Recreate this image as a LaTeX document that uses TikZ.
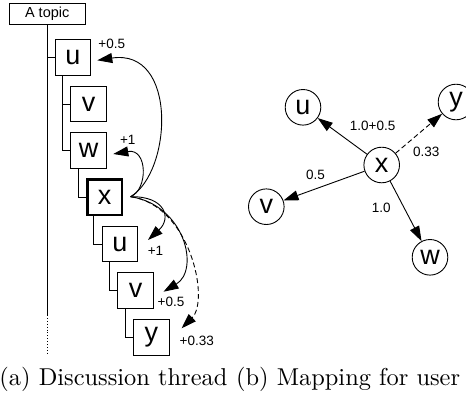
\documentclass[tikz,border=0pt]{standalone}
\usepackage{fontspec}
\setsansfont{Liberation Sans}
\usetikzlibrary{arrows.meta}
\begin{document}
\begin{tikzpicture}[x=1pt,y=1pt,
  ln/.style={line width=0.9pt},
  tbox/.style={draw, line width=0.9pt, minimum width=35.7pt, minimum height=35.7pt, inner sep=0pt, font=\fontsize{27}{27}\sffamily},
  cnode/.style={draw, circle, line width=0.9pt, minimum size=35.6pt, inner sep=0pt, font=\fontsize{27}{27}\sffamily},
  lab/.style={font=\fontsize{13.5}{14}\sffamily, inner sep=0pt},
  arr/.style={-{Triangle[length=15pt,width=10pt]}, line width=0.9pt},
  dsh/.style={dash pattern=on 5pt off 3pt},
  captext/.style={anchor=base west, inner sep=0pt, scale=2.44, font=\fontsize{10}{12}\selectfont}]
\useasboundingbox (0,0) rectangle (466,-397);

% ---- (a) discussion thread ----
\node[tbox, minimum width=75.5pt, minimum height=20.5pt, font=\fontsize{14.5}{15}\sffamily] (topic) at (47.2,-13.7) {A topic};
\node[tbox] (u1) at (73,-57.3) {u};
\node[tbox] (v1) at (88.7,-104) {v};
\node[tbox] (w1) at (88.7,-150.7) {w};
\node[tbox, line width=2.6pt, minimum width=34.7pt, minimum height=35.2pt] (x1) at (104.6,-197.2) {x};
\node[tbox] (u2) at (120,-244) {u};
\node[tbox] (v2) at (135.7,-290.7) {v};
\node[tbox] (y2) at (151.3,-337.3) {y};

\coordinate (mainend) at (topic.south |- 0,-315);
\coordinate (dotend) at (topic.south |- 0,-355);
\draw[ln] (topic.south) -- (mainend);
\draw[ln, dotted] (mainend) -- (dotend);
\draw[ln] (topic.south |- u1.west) -- (u1.west);
\draw[ln] ([xshift=8pt]u1.south west) |- (v1.west);
\draw[ln] ([xshift=8pt]u1.south west) |- (w1.west);
\draw[ln] ([xshift=8pt]w1.south west) |- (x1.west);
\draw[ln] ([xshift=7pt]x1.south west) |- (u2.west);
\draw[ln] ([xshift=8pt]u2.south west) |- (v2.west);
\draw[ln] ([xshift=8pt]v2.south west) |- (y2.west);

\node[lab] (l1) at (111.7,-44) {+0.5};
\node[lab] (l2) at (127.7,-140) {+1};
\node[lab] (l3) at (155.5,-250.5) {+1};
\node[lab] (l4) at (171,-302.3) {+0.5};
\node[lab] (l5) at (196.7,-341) {+0.33};

\coordinate (s) at ([shift={(7.3,0.5)}]x1.east);
\coordinate (tu1) at ([shift={(6,-3)}]u1.east);
\coordinate (tw1) at ([shift={(6.3,-3.3)}]w1.east);
\coordinate (tu2) at ([shift={(9.7,-14.3)}]u2.north east);
\coordinate (tv2) at ([shift={(9.5,-1)}]v2.east);
\coordinate (ty2) at ([shift={(12,-9.3)}]y2.north east);

\draw[arr] (s) .. controls (172,-172) and (178,-48) .. (tu1);
\draw[arr] (s) .. controls (148,-190) and (148,-148) .. (tw1);
\draw[arr] (s) .. controls (165,-196) and (172,-218) .. (tu2);
\draw[arr] (s) .. controls (185,-205) and (200,-270) .. (tv2);
\draw[arr, dsh] (s) .. controls (190,-205) and (210,-300) .. (ty2);

% ---- (b) mapping for user ----
\node[cnode] (U) at (303,-107.3) {u};
\node[cnode] (Y) at (456,-102) {y};
\node[cnode] (X) at (381.7,-165) {x};
\node[cnode] (V) at (266.3,-206.7) {v};
\node[cnode] (W) at (430,-257.3) {w};

\draw[arr] (X) -- (U);
\draw[arr, dsh] (X) -- (Y);
\draw[arr] (X) -- (V);
\draw[arr] (X) -- (W);

\node[lab] (lu) at (372.6,-126) {1.0+0.5};
\node[lab] (ly) at (426.3,-151.7) {0.33};
\node[lab] (lv) at (315.5,-175) {0.5};
\node[lab] (lw) at (381.3,-208.3) {1.0};

% ---- captions ----
\node[captext] (capa) at (-1,-385) {(a) Discussion thread};
\node[captext] (capb) at (235.6,-385) {(b) Mapping for user};
\end{tikzpicture}
\end{document}
